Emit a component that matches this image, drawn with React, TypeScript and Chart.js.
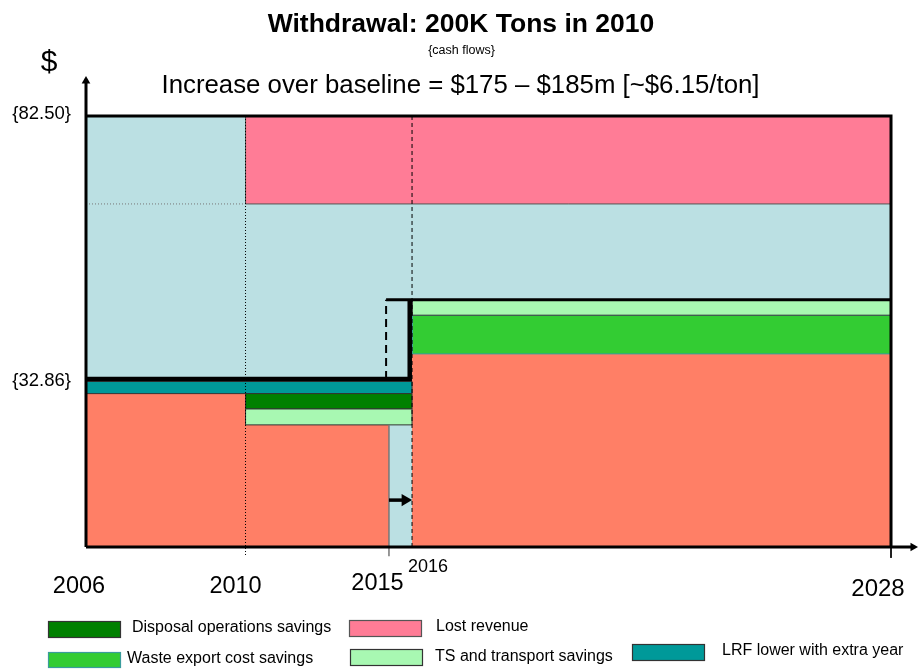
import React, { useEffect, useRef } from 'react';
import { Chart, LinearScale, registerables } from 'chart.js';

const FONT = "'Liberation Sans', Arial, Helvetica, sans-serif";

// ---------- axis data ----------
const YEAR_TICKS = [2006, 2010, 2015, 2016, 2028];
const YEAR_TICK_LABELS = ['2006', '2010', '2015', '2016', '2028'];
// schematic (not-to-scale) axis: knot years and their share of the axis length
const AXIS_KNOT_YEARS = [2006, 2010, 2015, 2016, 2028, 2028.7];
const AXIS_KNOT_SHARE = [0, 0.1915, 0.3637, 0.3914, 0.9664, 1];

const Y_MIN = 1.15;
const Y_MAX = 82.5;
const Y_AXIS_TOP = 91.18;
const Y_TICKS = [82.5, 32.86];
const Y_TICK_LABELS = ['{82.50}', '{32.86}'];

// ---------- series data: bands are [fromYear, toYear, low, high] ----------
const BACKGROUND_BAND = [2006, 2028, Y_MIN, 82.5];
const LOST_REVENUE = [2010, 2028, 65.9, 82.5];
const LRF_LOWER = [2006, 2016, 30.1, 32.4];
const DISPOSAL_OPS_SAVINGS = [2010, 2016, 27.2, 30.1];
const TS_SAVINGS_EARLY = [2010, 2016, 24.2, 27.2];
const WASTE_EXPORT_SAVINGS = [2016, 2028, 37.6, 44.9];
const TS_SAVINGS_LATE = [2016, 2028, 44.9, 47.8];
const BASE_COST_YEARS = [2006, 2010, 2015];
const BASE_COST_LEVELS = [30.1, 24.2];
const BASE_COST_LATE = [2016, 2028, Y_MIN, 37.6];

// withdrawal cost line (step)
const WITHDRAWAL_YEARS = [2006, 2015.9, 2015.9];
const WITHDRAWAL_LEVELS = [32.86, 32.86, 47.8];
const WITHDRAWAL_TOP_YEARS = [2014.9, 2028];
const WITHDRAWAL_TOP_LEVEL = 47.8;
const ORIGINAL_STEP_YEAR = 2014.9;
const ORIGINAL_STEP_LEVELS = [32.86, 47.8];
const REVENUE_SPLIT_LEVEL = 65.9;
const DELAY_ARROW_YEARS = [2015.0, 2015.7];
const DELAY_ARROW_LEVEL = 10.0;
const AXIS_END_YEAR = 2028.55;
const AXIS_TOP_LEVEL = 89.1;
const TICK_BOTTOM_LEVEL = -0.6;

const LEGEND_LABELS = [
  'Disposal operations savings',
  'Lost revenue',
  'Waste export cost savings',
  'TS and transport savings',
  'LRF lower with extra year',
];

class PiecewiseScale extends LinearScale {
  static id = 'piecewise';
  static defaults = LinearScale.defaults;
  getPixelForValue(value: any) {
    if (value === null || value === undefined || isNaN(value)) return NaN;
    const k = AXIS_KNOT_YEARS;
    const s = AXIS_KNOT_SHARE;
    let i = 0;
    while (i < k.length - 2 && value > k[i + 1]) i++;
    const frac = s[i] + ((value - k[i]) / (k[i + 1] - k[i])) * (s[i + 1] - s[i]);
    return (this as any).getPixelForDecimal(frac);
  }
  getValueForPixel(pixel: number) {
    const d = (this as any).getDecimalForPixel(pixel);
    const k = AXIS_KNOT_YEARS;
    const s = AXIS_KNOT_SHARE;
    let i = 0;
    while (i < s.length - 2 && d > s[i + 1]) i++;
    return k[i] + ((d - s[i]) / (s[i + 1] - s[i])) * (k[i + 1] - k[i]);
  }
}

Chart.register(...registerables, PiecewiseScale as any);

const COLORS = {
  bg: '#BBE0E3',
  base: '#FF7F66',
  lost: '#FF7C96',
  teal: '#009999',
  dark: '#008000',
  green: '#33CC33',
  light: '#A8F8B2',
};

const rect = (b: number[]) => [
  { x: b[0], y: b[2] },
  { x: b[1], y: b[2] },
  { x: b[1], y: b[3] },
  { x: b[0], y: b[3] },
  { x: b[0], y: b[2] },
];

const stepPolygon = (years: number[], levels: number[]) => {
  const pts: { x: number; y: number }[] = [{ x: years[0], y: Y_MIN }];
  for (let i = 0; i < levels.length; i++) {
    pts.push({ x: years[i], y: levels[i] });
    pts.push({ x: years[i + 1], y: levels[i] });
  }
  pts.push({ x: years[years.length - 1], y: Y_MIN });
  pts.push({ x: years[0], y: Y_MIN });
  return pts;
};

const shape = (label: string, data: any[], color: string, borderColor = color, borderWidth = 0) => ({
  label,
  data,
  fill: 'shape',
  backgroundColor: color,
  borderColor,
  borderWidth,
  pointRadius: 0,
  clip: false,
  tension: 0,
  borderJoinStyle: 'miter',
});

const line = (label: string, data: any[], color: string, width: number, dash: number[] = [], extra: any = {}) => ({
  label,
  data,
  fill: false,
  borderColor: color,
  backgroundColor: color,
  borderWidth: width,
  borderDash: dash,
  pointRadius: 0,
  clip: false,
  tension: 0,
  borderCapStyle: 'butt',
  borderJoinStyle: 'miter',
  ...extra,
});

const pts = (xs: number[], ys: number[]) => xs.map((x, i) => ({ x, y: ys[i] }));

const textPlugin = {
  id: 'schematicText',
  afterDraw(chart: any) {
    const ctx = chart.ctx as CanvasRenderingContext2D;
    const xs = chart.scales.x;
    const ys = chart.scales.y;
    ctx.save();
    ctx.fillStyle = '#000';
    ctx.textBaseline = 'alphabetic';
    ctx.textAlign = 'center';

    ctx.font = `bold 26.5px ${FONT}`;
    ctx.fillText('Withdrawal: 200K Tons in 2010', 461, 31.5);
    ctx.font = `12.5px ${FONT}`;
    ctx.fillText('{cash flows}', 461.5, 54);
    ctx.font = `25.8px ${FONT}`;
    ctx.fillText('Increase over baseline = $175 \u2013 $185m [~$6.15/ton]', 460.5, 93);
    ctx.font = `30px ${FONT}`;
    ctx.fillText('$', 49, 71);

    // y tick labels
    ctx.textAlign = 'right';
    ctx.font = `18.5px ${FONT}`;
    const yOff = [3, 7];
    Y_TICKS.forEach((v, i) => {
      ctx.fillText(Y_TICK_LABELS[i], 71, ys.getPixelForValue(v) + yOff[i]);
    });

    // year labels
    ctx.textAlign = 'center';
    const dx = [-7, -10, -11.5, 16, -13];
    const base = [593, 593, 590, 572, 596];
    const size = [23.5, 23.5, 23.5, 18, 24];
    YEAR_TICKS.forEach((yr, i) => {
      ctx.font = `${size[i]}px ${FONT}`;
      ctx.fillText(YEAR_TICK_LABELS[i], xs.getPixelForValue(yr) + dx[i], base[i]);
    });

    // legend
    const boxes = [
      [48, 621, 72, 16, 132, 628],
      [349, 620, 72, 16, 436, 627],
      [48, 652, 72, 15, 127, 659],
      [350, 649, 72, 16, 435, 657],
      [632, 644, 72, 16, 722, 651],
    ];
    ctx.font = `16px ${FONT}`;
    ctx.textAlign = 'left';
    ctx.textBaseline = 'middle';
    LEGEND_LABELS.forEach((label, i) => {
      const ds = chart.data.datasets.find((d: any) => d.label === label);
      const [bx, by, bw, bh, tx, ty] = boxes[i];
      ctx.fillStyle = ds.backgroundColor;
      ctx.fillRect(bx, by, bw, bh);
      ctx.strokeStyle = ds.borderColor;
      ctx.lineWidth = 1.2;
      ctx.strokeRect(bx + 0.5, by + 0.5, bw, bh);
      ctx.fillStyle = '#000';
      ctx.fillText(label, tx, ty);
    });
    ctx.restore();
  },
};

export default function App() {
  const ref = useRef<HTMLCanvasElement>(null);
  useEffect(() => {
    document.body.style.margin = '0';
    const arrowHead = (radius: number, rotation: number) => ({
      pointRadius: [0, radius],
      pointStyle: 'triangle',
      pointRotation: rotation,
      pointBackgroundColor: '#000',
      pointBorderColor: '#000',
      pointBorderWidth: 0,
    });
    const layers: any[] = [
      shape('Background', rect(BACKGROUND_BAND), COLORS.bg),
      line('Revenue split', pts([2006, 2010], [REVENUE_SPLIT_LEVEL, REVENUE_SPLIT_LEVEL]), '#777', 1, [1, 2]),
      shape('Lost revenue', rect(LOST_REVENUE), COLORS.lost, '#555', 1),
      shape('Baseline cost', stepPolygon(BASE_COST_YEARS, BASE_COST_LEVELS), COLORS.base),
      shape('Baseline cost late', rect(BASE_COST_LATE), COLORS.base),
      shape('LRF lower with extra year', rect(LRF_LOWER), COLORS.teal, '#333', 1),
      shape('Disposal operations savings', rect(DISPOSAL_OPS_SAVINGS), COLORS.dark, '#333', 1),
      shape('TS and transport savings', rect(TS_SAVINGS_EARLY), COLORS.light, '#333', 1),
      shape('Waste export cost savings', rect(WASTE_EXPORT_SAVINGS), COLORS.green, '#3A9C9C', 1),
      shape('TS and transport savings late', rect(TS_SAVINGS_LATE), COLORS.light, '#333', 1),
      line('2015 edge', pts([2015, 2015], [TS_SAVINGS_EARLY[2], TICK_BOTTOM_LEVEL]), '#777', 1.5),
      line('2010 marker', pts([2010, 2010], [Y_MAX, TICK_BOTTOM_LEVEL]), '#000', 1, [1, 2]),
      line('2016 marker', pts([2016, 2016], [Y_MAX, Y_MIN]), '#000', 1, [4, 3]),
      line('Original step', pts([ORIGINAL_STEP_YEAR, ORIGINAL_STEP_YEAR], ORIGINAL_STEP_LEVELS), '#000', 2, [8, 5]),
      line('Withdrawal step', pts(WITHDRAWAL_YEARS, WITHDRAWAL_LEVELS), '#000', 4.5),
      line('Withdrawal top', pts(WITHDRAWAL_TOP_YEARS, [WITHDRAWAL_TOP_LEVEL, WITHDRAWAL_TOP_LEVEL]), '#000', 3),
      line('Frame', pts([2006, 2028, 2028], [Y_MAX, Y_MAX, Y_MIN]), '#000', 3),
      line('2028 tick', pts([2028, 2028], [Y_MIN, TICK_BOTTOM_LEVEL - 0.3]), '#000', 1),
      line('Y axis', pts([2006, 2006], [Y_MIN, AXIS_TOP_LEVEL]), '#000', 3, [], arrowHead(5, 0)),
      line('X axis', pts([2006, AXIS_END_YEAR], [Y_MIN, Y_MIN]), '#000', 3, [], arrowHead(5, 90)),
      line('Delay arrow', pts(DELAY_ARROW_YEARS, [DELAY_ARROW_LEVEL, DELAY_ARROW_LEVEL]), '#000', 3.5, [], arrowHead(7, 90)),
    ];
    const n = layers.length;
    layers.forEach((d, i) => (d.order = n - i));

    const chart = new Chart(ref.current!, {
      type: 'line',
      data: { datasets: layers },
      options: {
        responsive: false,
        animation: false,
        events: [],
        layout: { autoPadding: false, padding: { left: 86, right: 0, top: 70, bottom: 122 } },
        scales: {
          x: { type: 'piecewise' as any, min: 2006, max: 2028.7, display: false },
          y: { type: 'linear', min: Y_MIN, max: Y_AXIS_TOP, display: false },
        },
        plugins: {
          legend: { display: false },
          tooltip: { enabled: false },
          title: { display: false },
        },
      } as any,
      plugins: [textPlugin],
    } as any);
    return () => chart.destroy();
  }, []);
  return <canvas ref={ref} width={919} height={669} style={{ display: 'block' }} />;
}
